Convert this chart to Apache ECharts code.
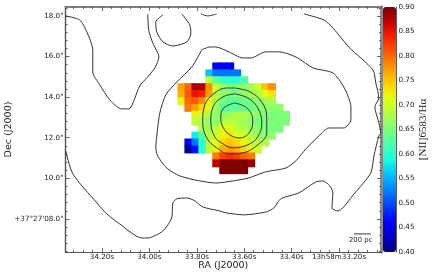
<!DOCTYPE html>
<html><head><meta charset="utf-8">
<style>html,body{margin:0;padding:0;background:#fff}#c{width:436px;height:276px}</style>
<script src="https://cdn.jsdelivr.net/npm/echarts@6/dist/echarts.min.js"></script>
</head><body><div id="c"></div>
<script>
// Line ratio map: rows run north to south, columns east to west; null = no measurement
const row00 = [null,null,null,null,null,.46,.46,.46,null,null,null,null,null,null,null,null];
const row01 = [null,null,null,null,.56,.52,.52,.52,.52,null,null,null,null,null,null,null];
const row02 = [null,null,null,null,.69,.63,.61,.60,.60,.62,null,null,null,null,null,null];
const row03 = [.77,.80,.88,.88,.78,.70,.66,.65,.65,.66,.67,.70,.75,.78,null,null];
const row04 = [.76,.81,.85,.84,.77,.69,.66,.65,.65,.66,.67,.68,.71,.73,null,null];
const row05 = [.72,.80,.81,.78,.72,.68,.65,.63,.63,.64,.65,.66,.67,.68,null,null];
const row06 = [null,.79,.77,.74,.71,.67,.63,.63,.63,.64,.64,.65,.66,.66,.66,null];
const row07 = [null,null,.72,.70,.68,.66,.66,.67,.68,.68,.67,.66,.65,.65,.65,.65];
const row08 = [null,null,.69,.68,.66,.66,.68,.69,.68,.67,.66,.65,.65,.65,.65,.65];
const row09 = [null,null,null,.68,.67,.69,.71,.71,.69,.68,.67,.66,.65,.65,.65,null];
const row10 = [null,null,.58,.63,.69,.70,.72,.73,.71,.70,.68,.67,.66,.66,null,null];
const row11 = [null,.46,.52,.60,.69,.71,.74,.75,.74,.72,.70,.69,.68,null,null,null];
const row12 = [null,.41,.47,.60,.69,.72,.76,.77,.76,.74,.72,.70,null,null,null,null];
const row13 = [null,null,null,null,null,.79,.82,.83,.82,.80,.79,null,null,null,null,null];
const row14 = [null,null,null,null,null,.87,.90,.90,.90,.90,.89,null,null,null,null,null];
const row15 = [null,null,null,null,null,null,.90,.90,.90,.90,null,null,null,null,null,null];
const ratioRows = [row00,row01,row02,row03,row04,row05,row06,row07,row08,row09,row10,row11,row12,row13,row14,row15];

// Map geometry, sky coordinates: RA seconds, Dec arcseconds
const firstRA = 33.865, stepRA = 0.0294, firstDec = 15.515, stepDec = 0.341;

// Contours as [RA seconds, Dec arcseconds]
const contourLeft = [[34.353,18.0],[34.294,17.80],[34.264,17.21],[34.239,16.33],[34.239,15.24],[34.209,14.60],[34.167,13.86],[34.117,13.42],[34.087,13.42],[34.041,14.55],[34.011,14.95],[33.977,15.44],[33.960,15.98],[33.986,16.67],[34.003,17.31],[34.007,18.10]];
const contourLoop = [[33.943,18.05],[33.973,17.70],[33.969,17.21],[33.943,16.72],[33.901,16.52],[33.842,16.72],[33.825,17.16],[33.830,17.56],[33.863,18.10]];
const contourCap = [[33.783,18.10],[33.754,18.0],[33.716,18.10]];
const contourRing = [[33.779,16.33],[33.745,16.47],[33.720,16.47],[33.665,16.23],[33.606,15.93],[33.572,15.93],[33.509,16.23],[33.454,16.23],[33.382,15.98],[33.310,15.44],[33.226,15.19],[33.180,14.50],[33.150,13.52],[33.150,12.88],[33.180,12.48],[33.243,12.48],[33.285,12.09],[33.340,11.45],[33.382,10.86],[33.424,10.51],[33.509,10.32],[33.581,10.02],[33.648,9.87],[33.720,9.77],[33.787,9.87],[33.872,10.12],[33.927,10.51],[33.965,11.10],[33.973,11.50],[33.969,12.09],[33.956,13.22],[33.931,14.11],[33.884,14.75],[33.821,15.49],[33.779,16.33]];
const contourOuter = [[33.348,18.10],[33.264,17.80],[33.226,17.41],[33.159,16.47],[33.057,15.34],[33.045,14.70],[33.032,13.96],[33.049,13.52],[33.032,12.73],[33.024,12.24],[33.032,12.09],[33.053,11.10],[33.066,10.27],[33.137,9.23],[33.205,8.39],[33.230,8.54],[33.226,9.28],[33.239,9.63],[33.268,9.87],[33.298,9.82],[33.370,9.28],[33.446,8.99],[33.475,8.54],[33.509,8.34],[33.602,8.20],[33.678,8.30],[33.703,8.39],[33.775,8.59],[33.808,8.89],[33.842,9.03],[33.884,8.99],[33.901,8.79],[33.906,8.05],[33.943,7.41],[34.007,7.06],[34.032,7.06],[34.125,7.75],[34.180,8.25],[34.222,8.79],[34.323,10.22],[34.353,11.35]];
const circleOuter = [[33.640,14.45],[33.576,14.26],[33.526,13.76],[33.505,13.02],[33.505,12.24],[33.543,11.65],[33.606,11.25],[33.661,11.20],[33.716,11.50],[33.758,11.99],[33.775,12.78],[33.766,13.62],[33.724,14.21],[33.673,14.45],[33.640,14.45]];
const circleMiddle = [[33.640,14.16],[33.585,13.96],[33.543,13.47],[33.526,12.73],[33.543,12.04],[33.585,11.65],[33.648,11.50],[33.695,11.74],[33.724,12.04],[33.741,12.78],[33.732,13.52],[33.690,14.01],[33.640,14.16]];
const circleInner = [[33.640,13.71],[33.589,13.47],[33.564,12.88],[33.576,12.29],[33.619,11.99],[33.661,12.14],[33.690,12.53],[33.699,12.98],[33.686,13.47],[33.640,13.71]];
const contours = [contourLeft,contourLoop,contourCap,contourRing,contourOuter,circleOuter,circleMiddle,circleInner];
const scaleBar = [[33.137,7.26],[33.066,7.26]];

// Axes and tick labels
const raRange = [33.023,34.354], decRange = [6.37,18.44], cbarRange = [0.40,0.90];
const raMajor = [33.2,33.4,33.6,33.8,34.0,34.2];
const raMinor = [33.04,33.08,33.12,33.16,33.24,33.28,33.32,33.36,33.44,33.48,33.52,33.56,33.64,33.68,33.72,33.76,33.84,33.88,33.92,33.96,34.04,34.08,34.12,34.16,34.24,34.28,34.32];
const decMajor = [8,10,12,14,16,18];
const decMinor = [6.4,6.8,7.2,7.6,8.4,8.8,9.2,9.6,10.4,10.8,11.2,11.6,12.4,12.8,13.2,13.6,14.4,14.8,15.2,15.6,16.4,16.8,17.2,17.6,18.4];
const raTickLabels = {33.2:'13h58m33.20s',33.4:'33.40s',33.6:'33.60s',33.8:'33.80s',34:'34.00s',34.2:'34.20s'};
const decTickLabels = {8:'+37°27\'08.0"',10:'10.0"',12:'12.0"',14:'14.0"',16:'16.0"',18:'18.0"'};
const jet = ['#00007f','#0000c8','#0000ff','#003fff','#007fff','#00bfff','#14ffe2','#48ffaf','#7bff7b','#afff48','#e2ff14','#ffd200','#ff9700','#ff5c00','#ff2100','#c80000','#7f0000'];

const cells = [];
ratioRows.forEach((row,r)=>row.forEach((v,c)=>{ if(v!==null) cells.push([firstRA-c*stepRA, firstDec-r*stepDec, v]); }));

const FONT = '"DejaVu Sans"', TXT = '#222';
const line = (color,width)=>({show:true,onZero:false,lineStyle:{color,width}});
function rangeAxis(range,inverse,position,tickVals,len,lineCfg,extra){
  return Object.assign({type:'value',gridIndex:0,min:range[0],max:range[1],inverse,position,
    axisLine:lineCfg,splitLine:{show:false},
    axisTick:{show:true,inside:true,length:len,customValues:tickVals,lineStyle:{color:'#444',width:.8}},
    axisLabel:{show:false}},extra||{});
}
const labelStyle = {show:true,fontFamily:FONT,fontSize:7.2,color:TXT};
const bottomLine = line('#555',1.2), topLine = line('#777',1.6), leftLine = line('#555',1.2), rightLine = line('#888',3);
const xAxes = [
  rangeAxis(raRange,true,'bottom',raMajor,4,bottomLine,{
    name:'RA (J2000)',nameLocation:'middle',nameGap:9,nameMoveOverlap:false,nameTextStyle:{fontFamily:FONT,fontSize:9.5,color:TXT},
    axisLabel:Object.assign({},labelStyle,{margin:1.5,customValues:raMajor,formatter:v=>raTickLabels[Math.round(v*10)/10]})}),
  rangeAxis(raRange,true,'top',raMajor,4,topLine),
  rangeAxis(raRange,true,'bottom',raMinor,2,bottomLine),
  rangeAxis(raRange,true,'top',raMinor,2,topLine),
  {type:'value',gridIndex:1,min:0,max:1,show:false}
];
const yAxes = [
  rangeAxis(decRange,false,'left',decMajor,4,leftLine,{
    name:'Dec (J2000)',nameLocation:'middle',nameGap:52,nameMoveOverlap:false,nameTextStyle:{fontFamily:FONT,fontSize:9.5,color:TXT},
    axisLabel:Object.assign({},labelStyle,{margin:2,customValues:decMajor,formatter:v=>decTickLabels[Math.round(v)]})}),
  rangeAxis(decRange,false,'right',decMajor,4,rightLine),
  rangeAxis(decRange,false,'left',decMinor,2,leftLine),
  rangeAxis(decRange,false,'right',decMinor,2,rightLine),
  {type:'value',gridIndex:1,position:'right',min:cbarRange[0],max:cbarRange[1],interval:0.05,
   axisLine:{show:true,onZero:false,lineStyle:{color:'#333',width:.8}},axisTick:{show:false},splitLine:{show:false},
   axisLabel:Object.assign({},labelStyle,{margin:2.5,formatter:v=>v.toFixed(2)}),
   name:'[NII]6583/Hα',nameLocation:'middle',nameGap:22,nameRotate:90,nameMoveOverlap:false,nameTextStyle:{fontFamily:'"Liberation Serif"',fontSize:11,color:TXT}}
];
const lineSeries = contours.map((d,i)=>({type:'line',data:d,smooth:i>4?.4:.25,showSymbol:false,silent:true,clip:true,z:5,
  lineStyle:{color:'#333',width:1},xAxisIndex:0,yAxisIndex:0}));
lineSeries.push({type:'line',data:scaleBar,showSymbol:false,silent:true,z:5,lineStyle:{color:'#222',width:.9},xAxisIndex:0,yAxisIndex:0});

const chart = echarts.init(document.getElementById('c'),null,{renderer:'canvas'});
chart.setOption({
  animation:false,backgroundColor:'#fff',
  grid:[{left:65.5,top:7,width:315.5,height:245,outerBoundsMode:'none'},{left:383,top:7,width:13,height:245,outerBoundsMode:'none'}],
  xAxis:xAxes,yAxis:yAxes,
  visualMap:{type:'continuous',seriesIndex:0,dimension:2,min:cbarRange[0],max:cbarRange[1],
    inRange:{color:jet},left:383,top:7,itemWidth:13,itemHeight:245,calculable:false,text:null,showLabel:false,hoverLink:false,padding:0,
    textStyle:{fontSize:0}},
  series:[{type:'custom',data:cells,encode:{x:0,y:1},xAxisIndex:0,yAxisIndex:0,silent:true,clip:true,z:2,
    renderItem:(p,api)=>{
      const c=api.coord([api.value(0),api.value(1)]);
      const s=api.size([stepRA,stepDec]);
      const w=Math.abs(s[0]),h=Math.abs(s[1]);
      return {type:'rect',shape:{x:c[0]-w/2-.5,y:c[1]-h/2-.5,width:w+1,height:h+1},style:{fill:api.visual('color')}};
    }}].concat(lineSeries),
  graphic:[{type:'text',left:349,top:236.5,style:{text:'200 pc',fontFamily:FONT,fontSize:6.8,fill:TXT}}]
});
</script></body></html>
